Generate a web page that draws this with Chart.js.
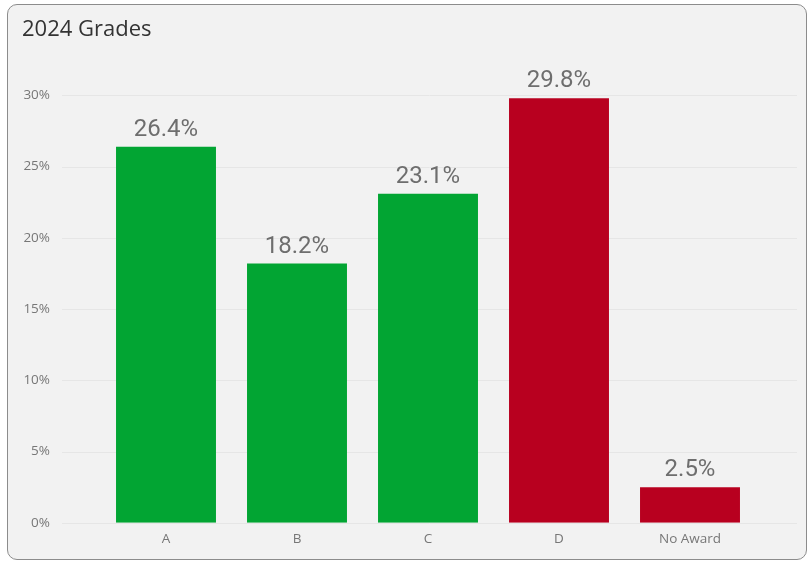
<!DOCTYPE html>
<html>
<head>
<meta charset="utf-8">
<script src="https://cdn.jsdelivr.net/npm/chart.js@4"></script>
<style>
  html, body { margin: 0; padding: 0; background: #fff; }
  .card {
    position: absolute; left: 7px; top: 4px; width: 798px; height: 554px;
    background: #f2f2f2; border: 1px solid #8c8c8c; border-radius: 10px;
  }
  #grades { position: absolute; left: 0; top: 0; }
</style>
</head>
<body>
<div class="card"></div>
<canvas id="grades" width="811" height="562"></canvas>
<script>
const categories = ['A', 'B', 'C', 'D', 'No Award'];
const shares = [26.4, 18.2, 23.1, 29.8, 2.5];
const barColors = ['#02a533', '#02a533', '#02a533', '#b8001f', '#b8001f'];
const yTicks = [0, 5, 10, 15, 20, 25, 30];

// light horizontal lines that run wider than the bar area
const wideGrid = {
  id: 'wideGrid',
  beforeDatasetsDraw(chart) {
    const { ctx, scales: { y } } = chart;
    ctx.save();
    ctx.strokeStyle = '#e6e6e6';
    ctx.lineWidth = 1;
    y.ticks.forEach(t => {
      const py = Math.round(y.getPixelForValue(t.value)) + 0.5;
      ctx.beginPath();
      ctx.moveTo(62, py);
      ctx.lineTo(797, py);
      ctx.stroke();
    });
    ctx.restore();
  }
};

const valueLabels = {
  id: 'valueLabels',
  afterDatasetsDraw(chart) {
    const { ctx } = chart;
    const meta = chart.getDatasetMeta(0);
    ctx.save();
    ctx.font = '24px Roboto';
    ctx.fillStyle = '#6e6e6e';
    ctx.textAlign = 'center';
    ctx.textBaseline = 'alphabetic';
    meta.data.forEach((bar, i) => {
      ctx.fillText(shares[i].toFixed(1) + '%', bar.x, bar.y - 11);
    });
    ctx.restore();
  }
};

new Chart(document.getElementById('grades'), {
  type: 'bar',
  data: {
    labels: categories,
    datasets: [{
      data: shares,
      backgroundColor: barColors,
      borderWidth: 0,
      categoryPercentage: 1,
      barPercentage: 0.763
    }]
  },
  options: {
    responsive: false,
    animation: false,
    layout: { padding: { left: 22, right: 55.5, top: 17, bottom: 7 } },
    plugins: {
      legend: { display: false },
      tooltip: { enabled: false },
      title: {
        display: true,
        text: '2024 Grades',
        align: 'start',
        color: '#333333',
        font: { family: 'Open Sans', size: 22, weight: 'normal' },
        padding: { top: 0, bottom: 52 }
      }
    },
    scales: {
      x: {
        grid: { display: false, drawTicks: false },
        border: { display: false },
        ticks: {
          color: '#777777',
          font: { family: 'Open Sans', size: 13.5 },
          padding: 8
        }
      },
      y: {
        min: 0,
        max: 30,
        grid: { display: false, drawTicks: false },
        border: { display: false },
        afterBuildTicks(scale) { scale.ticks = yTicks.map(v => ({ value: v })); },
        ticks: {
          color: '#777777',
          font: { family: 'Open Sans', size: 13.5 },
          padding: 50.5,
          callback: v => v + '%'
        },
        afterFit(scale) {
          scale.width = 78.5;
          scale.paddingTop = 7;
          scale.paddingBottom = 7;
        }
      }
    }
  },
  plugins: [wideGrid, valueLabels]
});
</script>
</body>
</html>
